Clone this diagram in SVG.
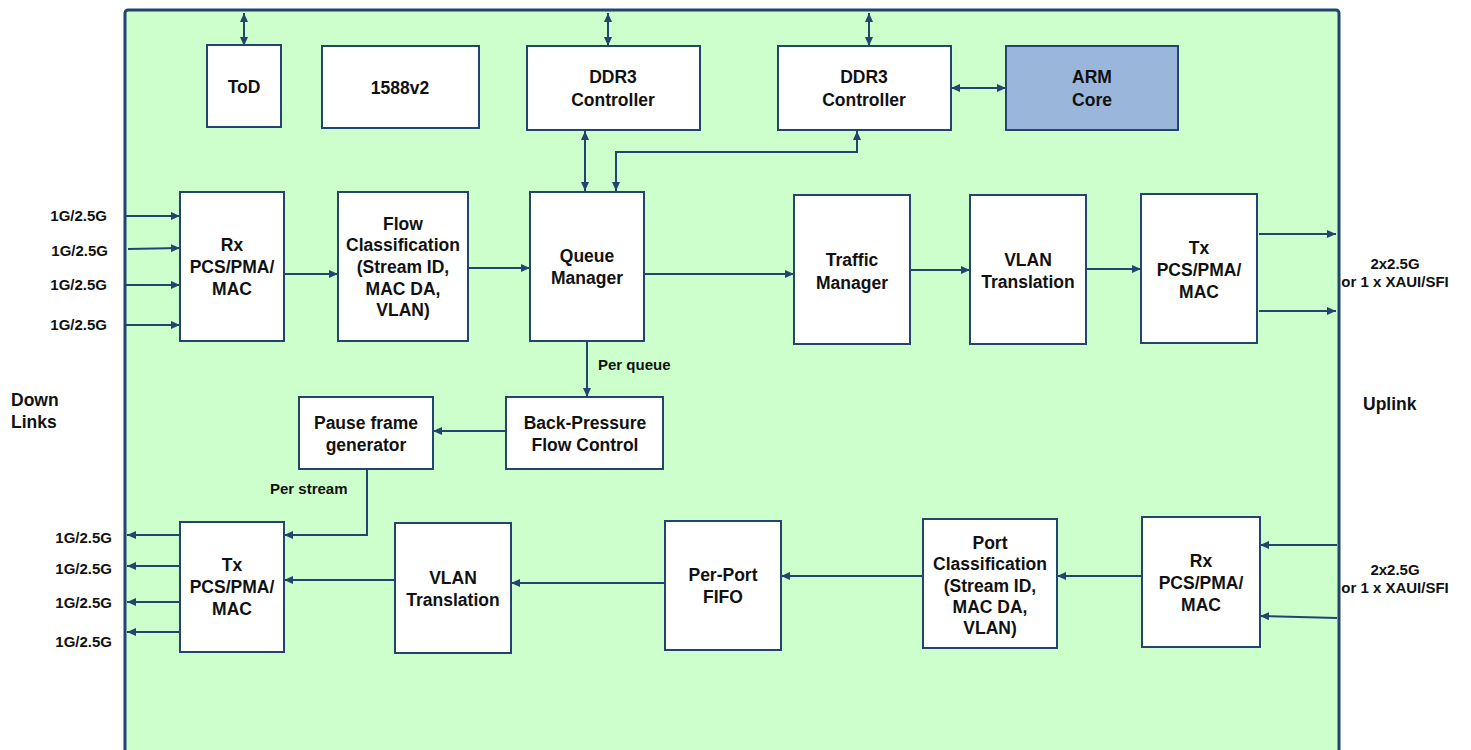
<svg xmlns="http://www.w3.org/2000/svg" width="1471" height="750" viewBox="0 0 1471 750">
<defs>
<marker id="ah" markerUnits="userSpaceOnUse" markerWidth="9" markerHeight="8" refX="9" refY="4" orient="auto-start-reverse">
<path d="M0,0 L9,4 L0,8 z" fill="#22446F"/>
</marker>
<style>
.box{fill:#FFFFFF;stroke:#22446F;stroke-width:2}
.arm{fill:#9AB6DA;stroke:#22446F;stroke-width:2}
.t{font-family:"Liberation Sans",Arial,sans-serif;font-weight:bold;font-size:17.5px;fill:#111;text-anchor:middle}
.s{font-family:"Liberation Sans",Arial,sans-serif;font-weight:bold;font-size:15px;fill:#111}
.c{fill:none;stroke:#22446F;stroke-width:2}
.one{marker-end:url(#ah)}
.two{marker-start:url(#ah);marker-end:url(#ah)}
</style>
</defs>
<rect width="1471" height="750" fill="#FFFFFF"/>
<g id="container">
<rect x="125" y="10" width="1214" height="800" rx="3" fill="#CCFFCC" stroke="#22446F" stroke-width="3"/>
</g>
<g id="connectors">
<path class="c two" d="M244,13 L244,46"/>
<path class="c two" d="M608,13 L608,46"/>
<path class="c two" d="M869,13 L869,46"/>
<path class="c two" d="M951,88 L1006,88"/>
<path class="c two" d="M585,131 L585,191"/>
<path class="c two" d="M857,131 L857,152 L616,152 L616,191"/>
<path class="c one" d="M126,216 L180,216"/>
<path class="c one" d="M128,249 L180,248"/>
<path class="c one" d="M126,285 L180,285"/>
<path class="c one" d="M126,325 L180,325"/>
<path class="c one" d="M284,274 L338,274"/>
<path class="c one" d="M468,268 L530,268"/>
<path class="c one" d="M644,274 L794,274"/>
<path class="c one" d="M910,270 L970,270"/>
<path class="c one" d="M1086,269 L1141,269"/>
<path class="c one" d="M1259,234 L1336,234"/>
<path class="c one" d="M1259,311 L1336,311"/>
<path class="c one" d="M587,341 L587,397"/>
<path class="c one" d="M506,431 L433,431"/>
<path class="c one" d="M367,469 L367,535 L284,535"/>
<path class="c one" d="M182,535 L127,535"/>
<path class="c one" d="M182,566 L127,566"/>
<path class="c one" d="M180,602 L127,602"/>
<path class="c one" d="M182,632 L127,632"/>
<path class="c one" d="M395,580 L284,580"/>
<path class="c one" d="M665,583 L511,583"/>
<path class="c one" d="M923,576 L781,576"/>
<path class="c one" d="M1142,576 L1057,576"/>
<path class="c one" d="M1337,545 L1260,545"/>
<path class="c one" d="M1337,618 L1260,616"/>
</g>
<g id="labels">
<text class="s" x="107" y="221" text-anchor="end">1G/2.5G</text>
<text class="s" x="108" y="256" text-anchor="end">1G/2.5G</text>
<text class="s" x="107" y="290" text-anchor="end">1G/2.5G</text>
<text class="s" x="107" y="330" text-anchor="end">1G/2.5G</text>
<text class="s" x="112" y="543" text-anchor="end">1G/2.5G</text>
<text class="s" x="112" y="574" text-anchor="end">1G/2.5G</text>
<text class="s" x="112" y="608" text-anchor="end">1G/2.5G</text>
<text class="s" x="112" y="647" text-anchor="end">1G/2.5G</text>
<text class="s" x="11" y="406" style="font-size:17.5px">Down</text>
<text class="s" x="11" y="428" style="font-size:17.5px">Links</text>
<text class="s" x="1363" y="410" style="font-size:17.5px">Uplink</text>
<text class="s" x="1395" y="269" text-anchor="middle">2x2.5G</text>
<text class="s" x="1395" y="287" text-anchor="middle">or 1 x XAUI/SFI</text>
<text class="s" x="1395" y="575" text-anchor="middle">2x2.5G</text>
<text class="s" x="1395" y="593" text-anchor="middle">or 1 x XAUI/SFI</text>
<text class="s" x="598" y="370">Per queue</text>
<text class="s" x="270" y="494">Per stream</text>
</g>
<g id="tod"><rect class="box" x="207" y="45" width="74" height="82"/><text class="t" x="244" y="93">ToD</text></g>
<g id="ptp"><rect class="box" x="322" y="46" width="157" height="82"/><text class="t" x="400" y="94">1588v2</text></g>
<g id="ddr3a"><rect class="box" x="527" y="46" width="173" height="84"/><text class="t" x="613" y="83">DDR3</text><text class="t" x="613" y="106">Controller</text></g>
<g id="ddr3b"><rect class="box" x="778" y="46" width="173" height="84"/><text class="t" x="864" y="83">DDR3</text><text class="t" x="864" y="106">Controller</text></g>
<g id="arm"><rect class="arm" x="1006" y="46" width="172" height="84"/><text class="t" x="1092" y="83">ARM</text><text class="t" x="1092" y="106">Core</text></g>
<g id="rx-top"><rect class="box" x="180" y="192" width="104" height="149"/><text class="t" x="232" y="251">Rx</text><text class="t" x="232" y="273">PCS/PMA/</text><text class="t" x="232" y="295">MAC</text></g>
<g id="flow-class"><rect class="box" x="338" y="192" width="130" height="149"/><text class="t" x="403" y="230">Flow</text><text class="t" x="403" y="251">Classification</text><text class="t" x="403" y="273">(Stream ID,</text><text class="t" x="403" y="295">MAC DA,</text><text class="t" x="403" y="316">VLAN)</text></g>
<g id="queue-mgr"><rect class="box" x="530" y="192" width="114" height="149"/><text class="t" x="587" y="262">Queue</text><text class="t" x="587" y="284">Manager</text></g>
<g id="traffic-mgr"><rect class="box" x="794" y="195" width="116" height="149"/><text class="t" x="852" y="266">Traffic</text><text class="t" x="852" y="289">Manager</text></g>
<g id="vlan-top"><rect class="box" x="970" y="195" width="116" height="149"/><text class="t" x="1028" y="266">VLAN</text><text class="t" x="1028" y="288">Translation</text></g>
<g id="tx-top"><rect class="box" x="1141" y="194" width="116" height="149"/><text class="t" x="1199" y="254">Tx</text><text class="t" x="1199" y="276">PCS/PMA/</text><text class="t" x="1199" y="298">MAC</text></g>
<g id="pause"><rect class="box" x="299" y="397" width="134" height="72"/><text class="t" x="366" y="429">Pause frame</text><text class="t" x="366" y="451">generator</text></g>
<g id="backpressure"><rect class="box" x="506" y="397" width="157" height="72"/><text class="t" x="585" y="429">Back-Pressure</text><text class="t" x="585" y="451">Flow Control</text></g>
<g id="tx-bot"><rect class="box" x="180" y="522" width="104" height="130"/><text class="t" x="232" y="571">Tx</text><text class="t" x="232" y="593">PCS/PMA/</text><text class="t" x="232" y="615">MAC</text></g>
<g id="vlan-bot"><rect class="box" x="395" y="523" width="116" height="130"/><text class="t" x="453" y="584">VLAN</text><text class="t" x="453" y="606">Translation</text></g>
<g id="fifo"><rect class="box" x="665" y="521" width="116" height="129"/><text class="t" x="723" y="581">Per-Port</text><text class="t" x="723" y="603">FIFO</text></g>
<g id="port-class"><rect class="box" x="923" y="519" width="134" height="129"/><text class="t" x="990" y="549">Port</text><text class="t" x="990" y="570">Classification</text><text class="t" x="990" y="592">(Stream ID,</text><text class="t" x="990" y="613">MAC DA,</text><text class="t" x="990" y="634">VLAN)</text></g>
<g id="rx-bot"><rect class="box" x="1142" y="517" width="118" height="130"/><text class="t" x="1201" y="567">Rx</text><text class="t" x="1201" y="589">PCS/PMA/</text><text class="t" x="1201" y="611">MAC</text></g>
</svg>
